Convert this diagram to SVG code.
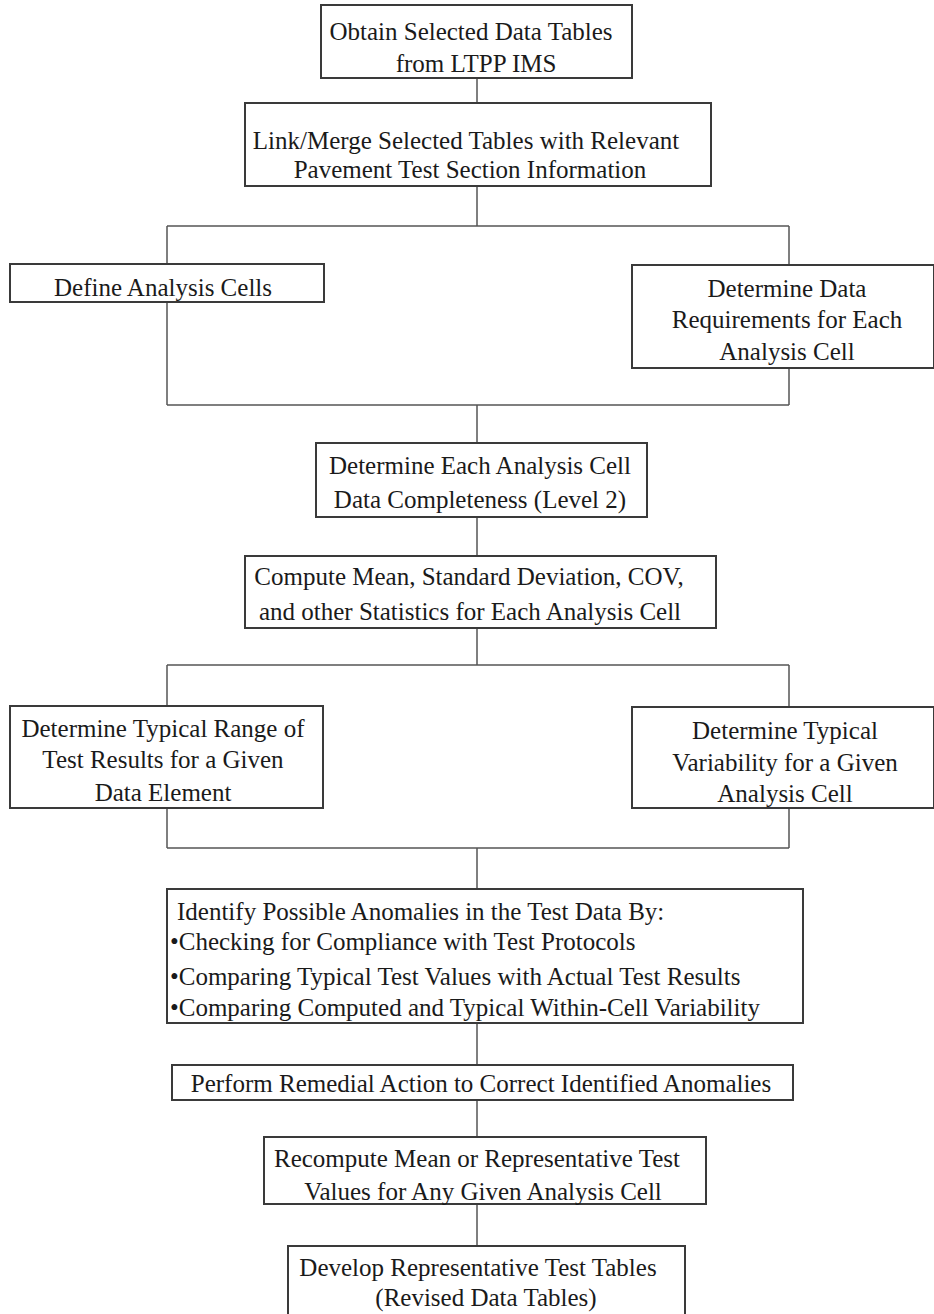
<svg xmlns="http://www.w3.org/2000/svg" width="934" height="1314" viewBox="0 0 934 1314">
<style>
.box{fill:#fff;stroke:#3a3a3a;stroke-width:2}
.ln{fill:none;stroke:#555;stroke-width:1.5}
text{font-family:"Liberation Serif","Times New Roman",serif;font-size:25px;fill:#1a1a1a}
.c{text-anchor:middle}
</style>
<rect width="934" height="1314" fill="#fff"/>
<g id="connectors">
<path class="ln" d="M477 78V103M477 186V226M167 226H789M167 226V405M789 226V405M167 405H789M477 405V443M477 517V556M477 628V665M167 665H789M167 665V848M789 665V848M167 848H789M477 848V889M477 1023V1065M477 1100V1137M477 1204V1246"/>
</g>
<g id="n1"><rect class="box" x="321" y="5" width="311" height="73"/>
<text class="c" x="471" y="40">Obtain Selected Data Tables</text>
<text class="c" x="476" y="72">from LTPP IMS</text></g>
<g id="n2"><rect class="box" x="245" y="103" width="466" height="83"/>
<text class="c" x="466" y="149">Link/Merge Selected Tables with Relevant</text>
<text class="c" x="470" y="178">Pavement Test Section Information</text></g>
<g id="n3"><rect class="box" x="10" y="264" width="314" height="38"/>
<text class="c" x="163" y="296">Define Analysis Cells</text></g>
<g id="n4"><rect class="box" x="632" y="265" width="302" height="103"/>
<text class="c" x="787" y="297">Determine Data</text>
<text class="c" x="787" y="328">Requirements for Each</text>
<text class="c" x="787" y="360">Analysis Cell</text></g>
<g id="n5"><rect class="box" x="316" y="443" width="331" height="74"/>
<text class="c" x="480" y="474">Determine Each Analysis Cell</text>
<text class="c" x="480" y="508">Data Completeness (Level 2)</text></g>
<g id="n6"><rect class="box" x="245" y="556" width="471" height="72"/>
<text class="c" x="469" y="585">Compute Mean, Standard Deviation, COV,</text>
<text class="c" x="470" y="620">and other Statistics for Each Analysis Cell</text></g>
<g id="n7"><rect class="box" x="10" y="706" width="313" height="102"/>
<text class="c" x="163" y="737">Determine Typical Range of</text>
<text class="c" x="163" y="768">Test Results for a Given</text>
<text class="c" x="163" y="801">Data Element</text></g>
<g id="n8"><rect class="box" x="632" y="707" width="302" height="101"/>
<text class="c" x="785" y="739">Determine Typical</text>
<text class="c" x="785" y="771">Variability for a Given</text>
<text class="c" x="785" y="802">Analysis Cell</text></g>
<g id="n9"><rect class="box" x="167" y="889" width="636" height="134"/>
<text x="177" y="920">Identify Possible Anomalies in the Test Data By:</text>
<text x="170" y="950">•Checking for Compliance with Test Protocols</text>
<text x="170" y="985">•Comparing Typical Test Values with Actual Test Results</text>
<text x="170" y="1016">•Comparing Computed and Typical Within-Cell Variability</text></g>
<g id="n10"><rect class="box" x="172" y="1065" width="621" height="35"/>
<text class="c" x="481" y="1092">Perform Remedial Action to Correct Identified Anomalies</text></g>
<g id="n11"><rect class="box" x="264" y="1137" width="442" height="67"/>
<text class="c" x="477" y="1167">Recompute  Mean or Representative Test</text>
<text class="c" x="483" y="1200">Values for Any Given Analysis Cell</text></g>
<g id="n12"><rect class="box" x="288" y="1246" width="397" height="70"/>
<text class="c" x="478" y="1276">Develop Representative Test Tables</text>
<text class="c" x="486" y="1306">(Revised Data Tables)</text></g>
</svg>
